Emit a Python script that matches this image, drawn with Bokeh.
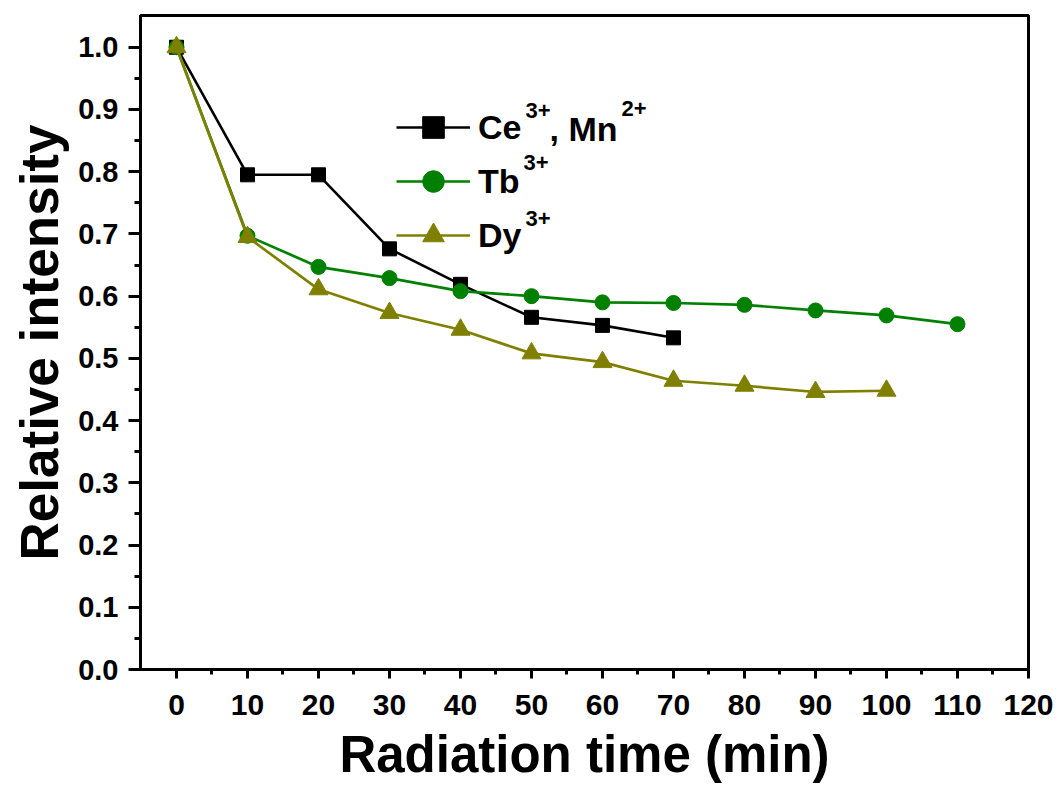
from bokeh.plotting import figure
from bokeh.models import Range1d, FixedTicker, NumeralTickFormatter, Legend, LegendItem, Label
from bokeh.embed import file_html
from bokeh.resources import INLINE

# data
time_ce = [0, 10, 20, 30, 40, 50, 60, 70]
ce_mn = [1.0, 0.795, 0.795, 0.676, 0.619, 0.566, 0.553, 0.533]
time_tb = [0, 10, 20, 30, 40, 50, 60, 70, 80, 90, 100, 110]
tb = [1.0, 0.697, 0.647, 0.629, 0.608, 0.600, 0.590, 0.589, 0.586, 0.577, 0.569, 0.555]
time_dy = [0, 10, 20, 30, 40, 50, 60, 70, 80, 90, 100]
dy = [1.0, 0.695, 0.611, 0.573, 0.546, 0.508, 0.494, 0.464, 0.456, 0.446, 0.448]
legend_base = ["Ce", "Tb", "Dy"]
x_ticks = list(range(0, 121, 10))
x_minor = list(range(5, 121, 10))
y_ticks = [i / 10 for i in range(0, 11)]
y_minor = [i / 20 for i in range(1, 21, 2)]

FONT = "Liberation Sans"

p = figure(width=1059, height=785, output_backend="svg", toolbar_location=None,
           x_range=Range1d(-5.07, 120), y_range=Range1d(0, 1.051),
           min_border_left=140, min_border_right=31, min_border_top=15, min_border_bottom=115)
p.grid.visible = False
p.outline_line_color = "black"
p.outline_line_width = 3
p.background_fill_color = "white"
p.border_fill_color = "white"

p.xaxis.ticker = FixedTicker(ticks=x_ticks, minor_ticks=x_minor)
p.yaxis.ticker = FixedTicker(ticks=y_ticks, minor_ticks=y_minor)
p.yaxis.formatter = NumeralTickFormatter(format="0.0")

for ax in (p.xaxis[0], p.yaxis[0]):
    ax.axis_line_width = 3
    ax.major_tick_line_width = 3
    ax.minor_tick_line_width = 3
    ax.major_tick_in = 0
    ax.minor_tick_in = 0
    ax.major_label_text_font = FONT
    ax.major_label_text_font_style = "bold"
    ax.major_label_text_color = "black"
    ax.axis_label_text_font = FONT
    ax.axis_label_text_font_style = "bold"
    ax.axis_label_text_color = "black"

p.xaxis.major_label_text_font_size = "30px"
p.yaxis.major_label_text_font_size = "29px"
p.xaxis.axis_label_text_font_size = "51px"
p.yaxis.axis_label_text_font_size = "53px"
p.xaxis.major_tick_out = 9
p.xaxis.minor_tick_out = 5
p.yaxis.major_tick_out = 12
p.yaxis.minor_tick_out = 6
p.xaxis.major_label_standoff = 16
p.yaxis.major_label_standoff = 10
p.xaxis.axis_label = "Radiation time (min)"
p.yaxis.axis_label = "Relative intensity"
p.xaxis.axis_label_standoff = 8
p.yaxis.axis_label_standoff = 6

l1 = p.line(time_ce, ce_mn, color="black", line_width=2.6)
m1 = p.scatter(time_ce, ce_mn, marker="square", size=14, color="black")
l2 = p.line(time_tb, tb, color="#008000", line_width=2.7)
m2 = p.scatter(time_tb, tb, marker="circle", size=15, color="#008000")
l3 = p.line(time_dy, dy, color="#808000", line_width=2.7)
m3 = p.scatter(time_dy, dy, marker="triangle", size=19, color="#808000")

legend = Legend(items=[LegendItem(label=legend_base[0], renderers=[l1, m1]),
                       LegendItem(label=legend_base[1], renderers=[l2, m2]),
                       LegendItem(label=legend_base[2], renderers=[l3, m3])],
                location=(256, 407))
legend.border_line_color = None
legend.background_fill_alpha = 0
legend.padding = 0
legend.margin = 0
legend.spacing = 0
legend.glyph_width = 74
legend.glyph_height = 54
legend.label_height = 54
legend.label_standoff = 8
legend.label_text_font = FONT
legend.label_text_font_style = "bold"
legend.label_text_font_size = "34px"
legend.label_text_color = "black"
p.add_layout(legend, "center")

# superscripts and the rest of the first legend label (screen units, frame-relative)
def lab(text, x, y, size):
    p.add_layout(Label(text=text, x=x, y=y, x_units="screen", y_units="screen",
                       text_font=FONT, text_font_style="bold", text_font_size=size,
                       text_color="black", text_baseline="alphabetic", text_align="left"))

lab("3+", 385, 559, "22px")
lab(", Mn", 409, 541, "34px")
lab("2+", 481, 561, "22px")
lab("3+", 383, 507, "22px")
lab("3+", 385, 451, "22px")

open("out.html", "w").write(file_html(p, INLINE))
